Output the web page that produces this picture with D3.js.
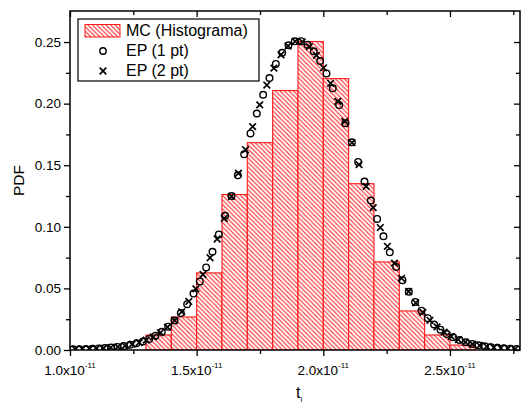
<!DOCTYPE html>
<html><head><meta charset="utf-8">
<script src="https://cdn.jsdelivr.net/npm/d3@7"></script>
<style>
body{margin:0;background:#fff}
svg{display:block;font-family:"Liberation Sans",Arial,sans-serif}
</style>
</head><body>
<svg id="chart" width="521" height="403"></svg>
<script>
// Time values are in units of 1e-11 s.
const binStart = [1.3,1.4,1.5,1.6,1.7,1.8,1.9,2.0,2.1,2.2,2.3,2.4,2.5];
const binWidth = 0.1;
const mcPdf = [0.0122,0.0268,0.0626,0.1262,0.1683,0.2106,0.2504,0.2203,0.1350,0.0715,0.0317,0.0122,0.0040];

const ep1T = [1.0125,1.0375,1.0625,1.0875,1.1125,1.1375,1.1625,1.1875,1.2125,1.2375,
  1.2625,1.2875,1.3125,1.3375,1.3625,1.3875,1.4125,1.4375,1.4625,1.4875,
  1.5125,1.5375,1.5625,1.5875,1.6125,1.6375,1.6625,1.6875,1.7125,1.7375,
  1.7625,1.7875,1.8125,1.8375,1.8625,1.8875,1.9125,1.9375,1.9625,1.9875,
  2.0125,2.0375,2.0625,2.0875,2.1125,2.1375,2.1625,2.1875,2.2125,2.2375,
  2.2625,2.2875,2.3125,2.3375,2.3625,2.3875,2.4125,2.4375,2.4625,2.4875,
  2.5125,2.5375,2.5625,2.5875,2.6125,2.6375,2.6625,2.6875,2.7125,2.7375,
  2.7625];
const ep1Pdf = [0.0006,0.0007,0.0009,0.0010,0.0013,0.0016,0.0020,0.0025,0.0032,0.0042,
  0.0054,0.0069,0.0090,0.0116,0.0148,0.0189,0.0239,0.0300,0.0372,0.0458,
  0.0557,0.0670,0.0797,0.0938,0.1089,0.1250,0.1418,0.1589,0.1758,0.1920,
  0.2072,0.2208,0.2322,0.2413,0.2474,0.2506,0.2507,0.2479,0.2425,0.2346,
  0.2245,0.2124,0.1988,0.1841,0.1686,0.1527,0.1368,0.1213,0.1064,0.0923,
  0.0793,0.0674,0.0567,0.0473,0.0390,0.0319,0.0258,0.0207,0.0165,0.0130,
  0.0103,0.0081,0.0063,0.0049,0.0038,0.0030,0.0023,0.0018,0.0014,0.0011,
  0.0009];

const ep2T = [1.021,1.049,1.077,1.105,1.133,1.161,1.189,1.217,1.245,1.273,
  1.301,1.329,1.357,1.385,1.413,1.441,1.469,1.497,1.525,1.553,
  1.581,1.609,1.637,1.665,1.693,1.721,1.749,1.777,1.805,1.833,
  1.861,1.889,1.917,1.945,1.973,2.001,2.029,2.057,2.085,2.113,
  2.141,2.169,2.197,2.225,2.253,2.281,2.309,2.337,2.365,2.393,
  2.421,2.449,2.477,2.505,2.533,2.561,2.589,2.617,2.645,2.673,
  2.701,2.729,2.757];
const ep2Pdf = [0.0006,0.0008,0.0009,0.0012,0.0015,0.0020,0.0025,0.0034,0.0046,0.0060,
  0.0080,0.0107,0.0141,0.0185,0.0240,0.0310,0.0394,0.0496,0.0613,0.0749,
  0.0901,0.1068,0.1247,0.1435,0.1626,0.1813,0.1990,0.2151,0.2288,0.2397,
  0.2468,0.2506,0.2502,0.2463,0.2392,0.2291,0.2165,0.2018,0.1856,0.1683,
  0.1505,0.1328,0.1156,0.0994,0.0842,0.0705,0.0582,0.0475,0.0383,0.0306,
  0.0241,0.0188,0.0145,0.0111,0.0085,0.0064,0.0048,0.0037,0.0028,0.0021,
  0.0016,0.0012,0.0009];

const xMajorTicks = [1.0,1.5,2.0,2.5];
const xTickMantissa = ["1.0","1.5","2.0","2.5"];
const xTickExponent = "-11";
const xMinorTicks = [1.25,1.75,2.25,2.75];
const yMajorTicks = [0,0.05,0.10,0.15,0.20,0.25];
const yMinorTicks = [0.025,0.075,0.125,0.175,0.225];
const legendLabels = ["MC (Histograma)","EP (1 pt)","EP (2 pt)"];

const plotLeft = 70, plotRight = 520, plotTop = 11, plotBottom = 350;
const svg = d3.select("#chart");
const x = d3.scaleLinear().domain([1.0, 2.7765]).range([plotLeft, plotRight]);
const y = d3.scaleLinear().domain([0, 0.2752]).range([plotBottom, plotTop]);

const defs = svg.append("defs");
const pat = defs.append("pattern").attr("id","hatch").attr("patternUnits","userSpaceOnUse")
  .attr("width",4.5).attr("height",4.5);
pat.append("rect").attr("width",4.5).attr("height",4.5).attr("fill","#fff");
pat.append("path").attr("d","M-1,-1L5.5,5.5M-1,3.5L1,5.5M3.5,-1L5.5,1")
  .attr("stroke","#ff1a1a").attr("stroke-width",1.05);
defs.append("clipPath").attr("id","plotclip").append("rect")
  .attr("x",plotLeft).attr("y",plotTop).attr("width",plotRight-plotLeft).attr("height",plotBottom-plotTop);

// histogram
const plot = svg.append("g").attr("clip-path","url(#plotclip)");
plot.selectAll("rect.bin").data(binStart).join("rect").attr("class","bin")
  .attr("x", d => x(d)).attr("width", d => x(d+binWidth)-x(d))
  .attr("y", (d,i) => y(mcPdf[i])).attr("height", (d,i) => y(0)-y(mcPdf[i]))
  .attr("fill","url(#hatch)").attr("stroke","#ff1a1a").attr("stroke-width",1.1);

// EP (1 pt): open circles
plot.selectAll("circle.ep1").data(ep1T).join("circle").attr("class","ep1")
  .attr("cx", d => x(d)).attr("cy", (d,i) => y(ep1Pdf[i])).attr("r",3.3)
  .attr("fill","none").attr("stroke","#000").attr("stroke-width",1.4);

// EP (2 pt): crosses
const cross = "M-3.3,-3.3L3.3,3.3M-3.3,3.3L3.3,-3.3";
plot.selectAll("path.ep2").data(ep2T).join("path").attr("class","ep2")
  .attr("transform",(d,i)=>`translate(${x(d)},${y(ep2Pdf[i])})`)
  .attr("d",cross).attr("stroke","#000").attr("stroke-width",1.7).attr("fill","none");

// axes
function styleAxis(g){
  g.selectAll("line").attr("stroke","#000").attr("stroke-width",1.3);
  g.select(".domain").remove();
}
const fontSize = 13.5;
svg.append("g").attr("transform",`translate(0,${plotBottom})`)
  .call(d3.axisBottom(x).tickValues(xMajorTicks).tickSize(6).tickFormat("")).call(styleAxis);
svg.append("g").attr("transform",`translate(0,${plotBottom})`)
  .call(d3.axisBottom(x).tickValues(xMinorTicks).tickSize(4).tickFormat("")).call(styleAxis);
svg.append("g").attr("transform",`translate(0,${plotTop})`)
  .call(d3.axisTop(x).tickValues(xMajorTicks).tickSize(-6).tickFormat("")).call(styleAxis);
svg.append("g").attr("transform",`translate(0,${plotTop})`)
  .call(d3.axisTop(x).tickValues(xMinorTicks).tickSize(-4).tickFormat("")).call(styleAxis);
svg.append("g").attr("transform",`translate(${plotLeft},0)`)
  .call(d3.axisLeft(y).tickValues(yMajorTicks).tickSize(6).tickFormat("")).call(styleAxis);
svg.append("g").attr("transform",`translate(${plotLeft},0)`)
  .call(d3.axisLeft(y).tickValues(yMinorTicks).tickSize(4).tickFormat("")).call(styleAxis);
svg.append("g").attr("transform",`translate(${plotRight},0)`)
  .call(d3.axisRight(y).tickValues(yMajorTicks).tickSize(-6).tickFormat("")).call(styleAxis);
svg.append("g").attr("transform",`translate(${plotRight},0)`)
  .call(d3.axisRight(y).tickValues(yMinorTicks).tickSize(-4).tickFormat("")).call(styleAxis);

// frame
svg.append("rect").attr("x",plotLeft).attr("y",plotTop).attr("width",plotRight-plotLeft).attr("height",plotBottom-plotTop)
  .attr("fill","none").attr("stroke","#000").attr("stroke-width",1.5);

// y tick labels
svg.append("g").selectAll("text").data(yMajorTicks).join("text")
  .attr("x", plotLeft-9).attr("y", d => y(d)+4.7).attr("text-anchor","end")
  .attr("font-size",fontSize).text(d => d3.format(".2f")(d));

// x tick labels with exponent
const xl = svg.append("g").selectAll("text").data(xMajorTicks).join("text")
  .attr("x", d => x(d)).attr("y", plotBottom+25).attr("text-anchor","middle").attr("font-size",fontSize);
xl.append("tspan").text((d,i) => xTickMantissa[i] + "x10");
xl.append("tspan").attr("dy",-7).attr("font-size",8).text(xTickExponent);

// axis titles
const xt = svg.append("text").attr("x",296).attr("y",398).attr("font-size",16);
xt.append("tspan").text("t");
xt.append("tspan").attr("dy",4).attr("font-size",8).text("i");
svg.append("text").attr("transform","translate(24,180.5) rotate(-90)")
  .attr("text-anchor","middle").attr("font-size",15.5).text("PDF");

// legend
const lg = svg.append("g");
lg.append("rect").attr("x",78).attr("y",19).attr("width",181).attr("height",62)
  .attr("fill","#fff").attr("stroke","#000").attr("stroke-width",1.2);
lg.append("rect").attr("x",85).attr("y",24.5).attr("width",35).attr("height",12.5)
  .attr("fill","url(#hatch)").attr("stroke","#ff1a1a").attr("stroke-width",1);
lg.append("circle").attr("cx",103).attr("cy",51).attr("r",3.2)
  .attr("fill","none").attr("stroke","#000").attr("stroke-width",1.4);
lg.append("path").attr("transform","translate(103,71)").attr("d",cross)
  .attr("stroke","#000").attr("stroke-width",1.7);
lg.selectAll("text").data(legendLabels).join("text")
  .attr("x",126).attr("y",(d,i)=>36+i*20).attr("font-size",16).text(d=>d);
</script>
</body></html>
